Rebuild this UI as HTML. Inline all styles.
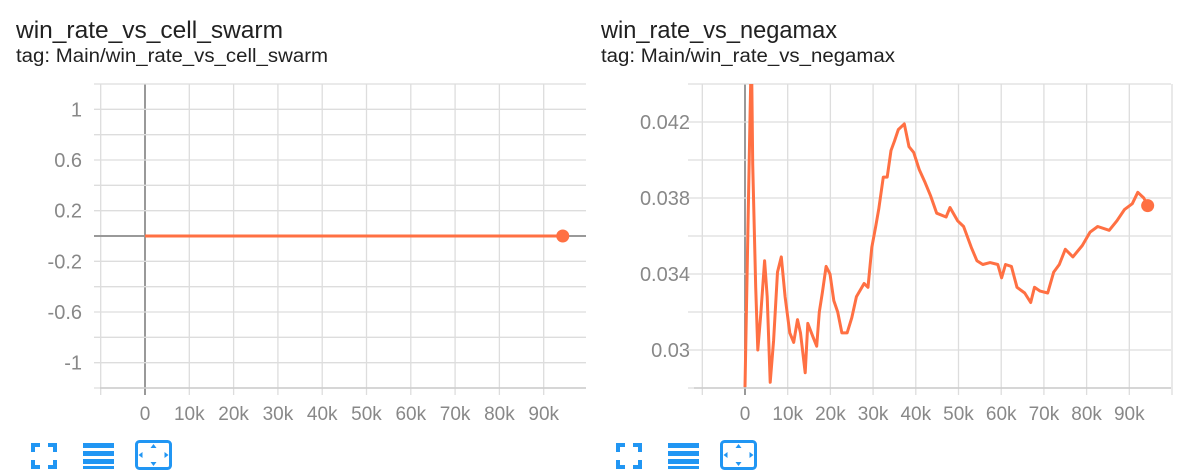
<!DOCTYPE html>
<html><head><meta charset="utf-8">
<style>
body{margin:0;background:#fff;width:1200px;height:473px;overflow:hidden;font-family:"Liberation Sans",sans-serif}
svg{position:absolute;left:0;top:0}
</style></head>
<body>
<svg id="s" width="1200" height="473">
<text x="16" y="38" font-size="24" fill="#212121" textLength="267" lengthAdjust="spacingAndGlyphs">win_rate_vs_cell_swarm</text>
<text x="16" y="62" font-size="19" fill="#212121" textLength="312" lengthAdjust="spacingAndGlyphs">tag: Main/win_rate_vs_cell_swarm</text>
<text x="601" y="38" font-size="24" fill="#212121" textLength="236" lengthAdjust="spacingAndGlyphs">win_rate_vs_negamax</text>
<text x="601" y="62" font-size="19" fill="#212121" textLength="294" lengthAdjust="spacingAndGlyphs">tag: Main/win_rate_vs_negamax</text>
</svg>
<script>
// Chart 1 data
const steps1 = [0, 94.3];
const values1 = [0, 0];
const yTicks1 = [1, 0.6, 0.2, -0.2, -0.6, -1];
// Chart 2 data
const steps2 = [0,1.2,1.5,1.8,2.5,3,3.7,4.6,5.2,5.9,6.7,7.6,8.5,9.4,10.5,11.4,12.3,13,14.1,14.7,15.9,16.8,17.4,18.1,19,19.9,20.8,21.7,22.7,23.9,25,26.1,27.9,28.8,29.7,30.6,31.3,32.4,33.3,34.2,35,35.9,37.3,38.4,39.5,40.8,42.2,43.5,44.9,47.1,48,49.8,51.2,53,54.3,55.7,57.4,59.2,60.1,61,62.4,63.7,65.5,66.9,67.8,69.1,70.9,72.3,73.6,75,76.8,79,80.8,82.6,85.3,87.1,88.9,90.7,92,93.4,94.3];
const values2 = [0.02805,0.0425,0.046,0.0398,0.0333,0.0300,0.0319,0.0347,0.0328,0.0283,0.0305,0.0341,0.0349,0.0328,0.0309,0.0304,0.0316,0.0309,0.0288,0.0314,0.0307,0.0302,0.0320,0.0330,0.0344,0.0340,0.0326,0.0320,0.0309,0.0309,0.0317,0.0328,0.0335,0.0333,0.0354,0.0365,0.0374,0.0391,0.0391,0.0405,0.0410,0.0416,0.0419,0.0407,0.0404,0.0395,0.0388,0.0381,0.0372,0.0370,0.0375,0.0368,0.0365,0.0354,0.0347,0.0345,0.0346,0.0345,0.0338,0.0345,0.0344,0.0333,0.0330,0.0325,0.0333,0.0331,0.0330,0.0341,0.0345,0.0353,0.0349,0.0355,0.0362,0.0365,0.0363,0.0368,0.0374,0.0377,0.0383,0.0380,0.0376];
const yTicks2 = ["0.042","0.038","0.034","0.03"];
const xTicks = ["0","10k","20k","30k","40k","50k","60k","70k","80k","90k"];

const NS="http://www.w3.org/2000/svg", svg=document.getElementById('s');
function mk(t,a,parent){const e=document.createElementNS(NS,t);for(const k in a)e.setAttribute(k,a[k]);(parent||svg).appendChild(e);return e;}

function chart(cfg){
  const {L,R,T,B,x0,pxk,ymin,ymax,grid,ticks,steps,vals,labelX,name}=cfg;
  const X=k=>x0+k*pxk, Y=v=>B-(v-ymin)/(ymax-ymin)*(B-T);
  const g=mk('g',{});
  
  
  for(let k=-10;k<=100;k+=10){const x=X(k);if(x<L-1||x>R+1)continue;
    const l=mk('line',{x1:x,x2:x,y1:T,y2:B+7,stroke:k===0?'#999':'#ddd','stroke-width':k===0?2:1.3},g);
    }
  for(const v of grid){const y=Y(v);
    const l=mk('line',{x1:L-6,x2:R,y1:y,y2:y,stroke:(Math.abs(v)<1e-9)?'#999':'#ddd','stroke-width':(Math.abs(v)<1e-9)?2:1.3},g);
    }
  const ax=mk('line',{x1:L,x2:R,y1:B,y2:B,stroke:'#ccc','stroke-width':1.5},g);
  
  for(const t of ticks){const tx=mk('text',{x:labelX,y:Y(+t)+7,'font-size':20,fill:'#888','text-anchor':'end'},g);tx.textContent=t;
    }
  xTicks.forEach((t,i)=>{const tx=mk('text',{x:X(i*10),y:420,'font-size':19,fill:'#888','text-anchor':'middle'},g);tx.textContent=t;
    });
  mk('clipPath',{id:name+'-clip'},g).appendChild(document.createElementNS(NS,'rect'));
  const cr=g.querySelector('clipPath rect');cr.setAttribute('x',L);cr.setAttribute('y',T);cr.setAttribute('width',R-L);cr.setAttribute('height',B-T);
  const d=steps.map((s,i)=>(i?'L':'M')+X(s).toFixed(1)+','+Y(vals[i]).toFixed(1)).join('');
  const p=mk('path',{d,fill:'none',stroke:'#ff7043','stroke-width':3,'stroke-linejoin':'round','clip-path':'url(#'+name+'-clip)'},g);
  
  const n=steps.length-1;
  const c=mk('circle',{cx:X(steps[n]),cy:Y(vals[n]),r:6.5,fill:'#ff7043'},g);
  
}
chart({name:'chart-cell-swarm',L:100,R:586,T:84,B:388,x0:145,pxk:4.43,ymin:-1.2,ymax:1.2,
  grid:[1.2,1,0.8,0.6,0.4,0.2,0,-0.2,-0.4,-0.6,-0.8,-1,-1.2],ticks:yTicks1,steps:steps1,vals:values1,labelX:82});
chart({name:'chart-negamax',L:694,R:1171,T:84,B:388,x0:745,pxk:4.27,ymin:0.028,ymax:0.044,
  grid:[0.044,0.042,0.040,0.038,0.036,0.034,0.032,0.030,0.028],ticks:yTicks2,steps:steps2,vals:values2,labelX:690});

function icons(ox,pre){
  const g=mk('g',{fill:'#2196f3'});
  
  const f=mk('g',{},g);
  [[0,0,9,4],[0,0,4,9],[17,0,9,4],[22,0,4,9],[0,22,9,4],[0,17,4,9],[17,22,9,4],[22,17,4,9]].forEach(r=>mk('rect',{x:ox+1+r[0],y:443+r[1],width:r[2],height:r[3]},f));
  const l=mk('g',{},g);
  [443,451,459,466].forEach((y,i)=>mk('rect',{x:ox+53,y:y,width:31,height:i==3?3:5},l));
  const e=mk('g',{},g);
  mk('rect',{x:ox+106.5,y:441.5,width:34,height:27,rx:3,fill:'none',stroke:'#2196f3','stroke-width':3},e);
  const cx=ox+123.5,cy=455;
  mk('path',{d:`M${cx-3},${cy-7}l3,-4l3,4zM${cx-3},${cy+7}l3,4l3,-4zM${cx-11},${cy-3}l-4,3l4,3zM${cx+11},${cy-3}l4,3l-4,3z`},e);
}
icons(30,'cell-swarm');icons(615,'negamax');
</script>
</body></html>
